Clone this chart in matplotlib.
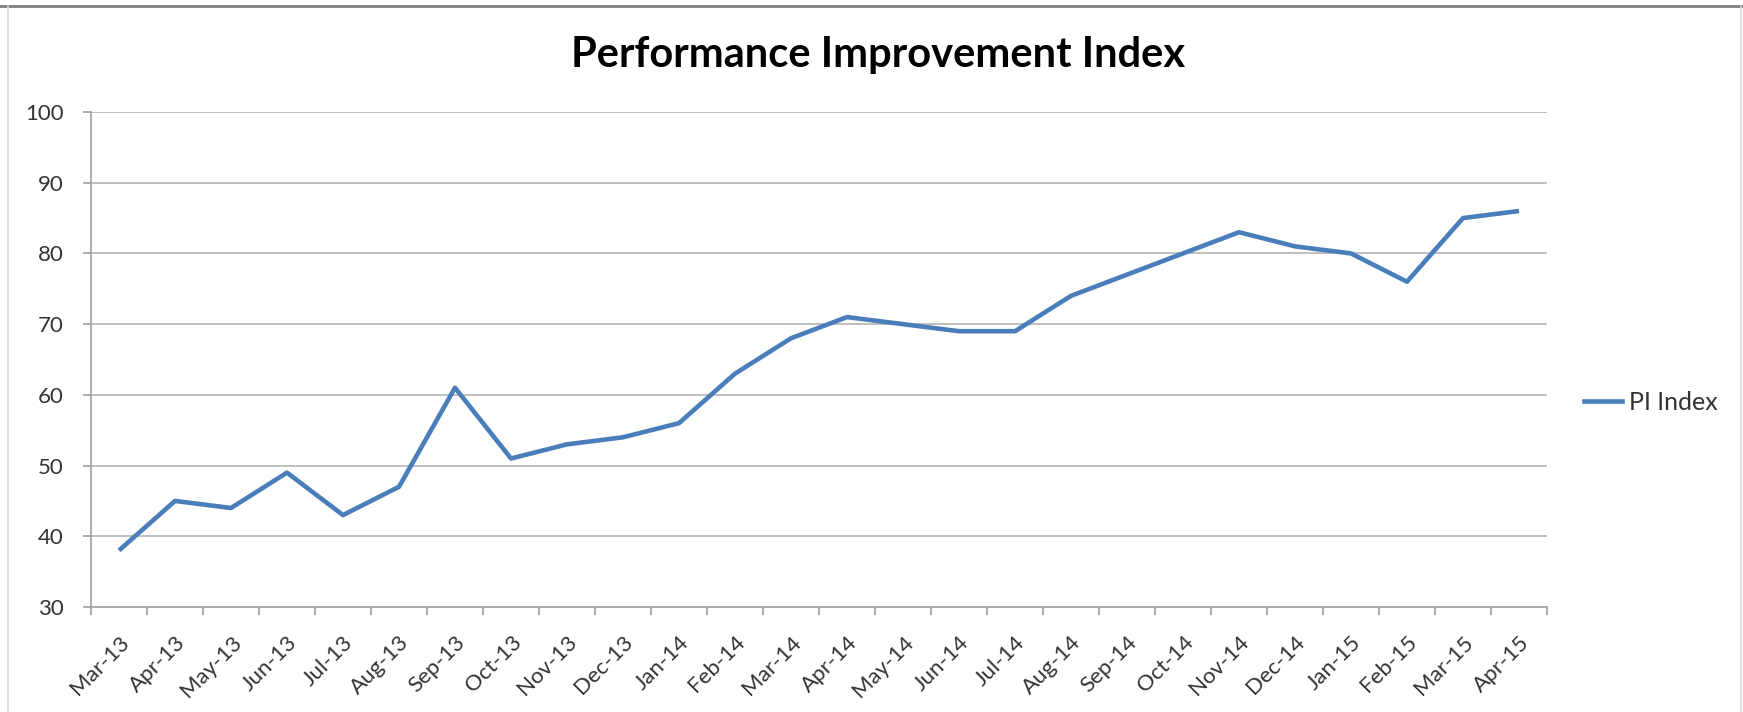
import matplotlib
matplotlib.use("Agg")
import matplotlib.pyplot as plt
from matplotlib.lines import Line2D

months = ["Mar-13", "Apr-13", "May-13", "Jun-13", "Jul-13", "Aug-13", "Sep-13",
          "Oct-13", "Nov-13", "Dec-13", "Jan-14", "Feb-14", "Mar-14", "Apr-14",
          "May-14", "Jun-14", "Jul-14", "Aug-14", "Sep-14", "Oct-14", "Nov-14",
          "Dec-14", "Jan-15", "Feb-15", "Mar-15", "Apr-15"]
pi_index = [38, 45, 44, 49, 43, 47, 61, 51, 53, 54, 56, 63, 68, 71,
            70, 69, 69, 74, 77, 80, 83, 81, 80, 76, 85, 86]
series_name = "PI Index"
title = "Performance Improvement Index"
y_ticks = [30, 40, 50, 60, 70, 80, 90, 100]

plt.rcParams['font.family'] = ['Lato', 'DejaVu Sans']

W, H = 1743, 712
fig = plt.figure(figsize=(W / 100, H / 100), dpi=100)
fig.patch.set_facecolor("white")

left, right, top, bottom = 91, 1547, 112, 607
ax = fig.add_axes([left / W, 1 - bottom / H, (right - left) / W, (bottom - top) / H])

line_color = "#4A7EBB"
x = list(range(len(months)))
ax.plot(x, pi_index, color=line_color, lw=3.3, solid_joinstyle="round",
        solid_capstyle="butt", label=series_name, zorder=3)

ax.set_xlim(-0.5, len(months) - 0.5)
ax.set_ylim(30, 100)
ax.set_yticks(y_ticks)
ax.yaxis.grid(True, color="#BFBFBF", lw=1.4)
ax.set_axisbelow(True)

for s in ["top", "right"]:
    ax.spines[s].set_visible(False)
for s in ["left", "bottom"]:
    ax.spines[s].set_color("#A6A6A6")
    ax.spines[s].set_linewidth(1.3)

tick_color = "#333333"
ax.tick_params(axis="y", direction="out", length=5.8, width=1.3, color="#A6A6A6",
               labelsize=16, labelcolor=tick_color, pad=14)
ax.set_xticks(x)
ax.set_xticklabels(months, rotation=45, ha="right", rotation_mode="anchor",
                   fontsize=16, color=tick_color)
ax.tick_params(axis="x", which="major", length=0, pad=18)
ax.set_xticks([i - 0.5 for i in range(len(months) + 1)], minor=True)
ax.tick_params(axis="x", which="minor", direction="out", length=6, width=1.3,
               color="#A6A6A6")

fig.text(878 / W, 1 - 55 / H, title, ha="center", va="center",
         fontsize=30, fontweight="bold", color="black")

fig.legend(handles=[Line2D([0], [0], color=line_color, lw=3.3)], labels=[series_name],
           loc="center left", bbox_to_anchor=(1584 / W, 1 - 402 / H),
           frameon=False, fontsize=18, handlelength=1.5, handletextpad=0.3,
           borderpad=0, borderaxespad=0, labelcolor=tick_color)

# chart frame lines
fig.add_artist(Line2D([0, 1], [1 - 6 / H, 1 - 6 / H], transform=fig.transFigure,
                      color="#7F7F7F", lw=2))
fig.add_artist(Line2D([8 / W, 8 / W], [0, 1 - 6 / H], transform=fig.transFigure,
                      color="#D9D9D9", lw=1.2))
fig.add_artist(Line2D([1741 / W, 1741 / W], [0, 1 - 6 / H], transform=fig.transFigure,
                      color="#D9D9D9", lw=1.2))

fig.savefig("out.png", dpi=100, facecolor="white")
